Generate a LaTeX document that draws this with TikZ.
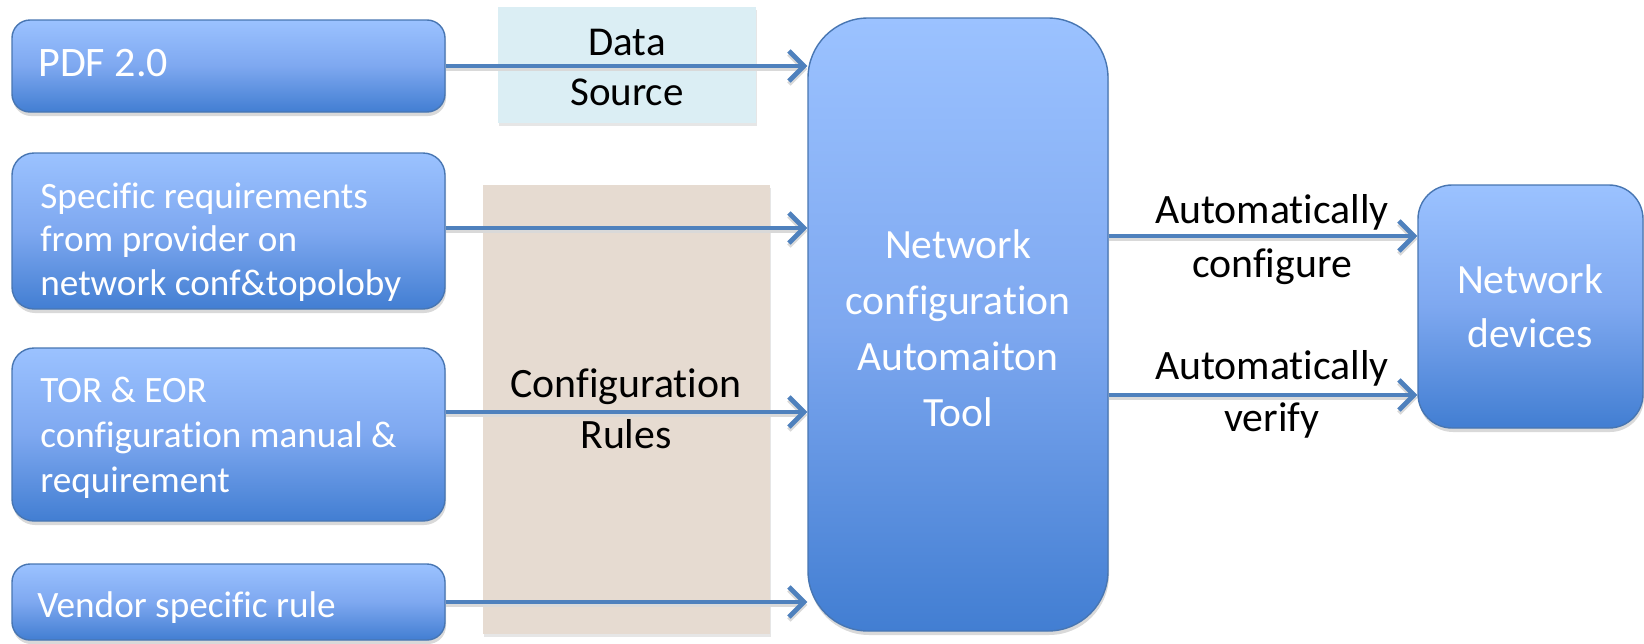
\documentclass[tikz,border=0pt]{standalone}
\usepackage{fontspec}
\setmainfont{Carlito}[Ligatures=NoCommon]
\usetikzlibrary{arrows.meta,shadows,calc}
\definecolor{btop}{RGB}{155,194,255}
\definecolor{bmid}{RGB}{126,168,240}
\definecolor{bbot}{RGB}{66,126,210}
\definecolor{bline}{RGB}{72,118,178}
\definecolor{arr}{RGB}{79,129,189}
\definecolor{dsrc}{RGB}{219,238,244}
\definecolor{crul}{RGB}{230,219,209}
\begin{document}
\begin{tikzpicture}[x=0.5pt,y=-0.5pt,
  bluebox/.style={draw=bline, line width=0.7pt, top color=btop, bottom color=bbot, middle color=bmid,
    drop shadow={shadow xshift=0.5pt, shadow yshift=-2pt, opacity=0.3}, inner sep=0pt},
  flatbox/.style={draw=none, inner sep=0pt,
    drop shadow={shadow xshift=0.5pt, shadow yshift=-1.5pt, opacity=0.2}},
  wtxt/.style={text=white, inner sep=0pt},
  btxt/.style={text=black, inner sep=0pt, align=center},
  conn/.style={draw=arr, line width=2.4pt, -{Straight Barb[length=7.5pt,width=15pt]},
    preaction={draw=black!15, line width=2.4pt, transform canvas={yshift=-1.5pt}}},
]
\useasboundingbox (0,0) rectangle (1644,643);

% background label boxes
\node[flatbox, fill=dsrc, minimum width=129pt, minimum height=58pt] (ds) at (627,65) {};
\node[flatbox, fill=crul, minimum width=143.5pt, minimum height=224.5pt] (cr) at (626.5,409.5) {};

% blue boxes
\node[bluebox, rounded corners=9pt, minimum width=216.5pt, minimum height=46pt] (b1) at (228.5,66) {};
\node[bluebox, rounded corners=11pt, minimum width=216.5pt, minimum height=78pt] (b2) at (228.5,231) {};
\node[bluebox, rounded corners=11pt, minimum width=216.5pt, minimum height=86.5pt] (b3) at (228.5,434.5) {};
\node[bluebox, rounded corners=9pt, minimum width=216.5pt, minimum height=38pt] (b4) at (228.5,602) {};
\node[bluebox, rounded corners=30pt, minimum width=150pt, minimum height=306.5pt] (tool) at (958,324.5) {};
\node[bluebox, rounded corners=17pt, minimum width=112.5pt, minimum height=121.5pt] (nd) at (1530.5,306.5) {};

% texts in blue boxes (multi-line nodes: base = last line)
\node[wtxt, anchor=base west, font=\fontsize{21}{25}\selectfont] (t1) at (38,76) {PDF 2.0};
\node[wtxt, anchor=base west, align=left, font=\fontsize{18.6}{21.75}\selectfont] (t2) at (40,295)
  {Specific requirements\\from provider on\\network conf\&topoloby};
\node[wtxt, anchor=base west, align=left, font=\fontsize{18.6}{22.5}\selectfont] (t3) at (40,492)
  {TOR \& EOR\\configuration manual \&\\requirement};
\node[wtxt, anchor=base west, font=\fontsize{18.6}{22}\selectfont] (t4) at (37,617) {Vendor specific rule};
\node[wtxt, anchor=base, align=center, font=\fontsize{20.8}{28}\selectfont] (ttool) at (958,426)
  {Network\\configuration\\Automaiton\\Tool};
\node[wtxt, anchor=base, align=center, font=\fontsize{20.8}{27}\selectfont] (tnd) at (1530,347)
  {Network\\devices};

% black labels
\node[btxt, anchor=base, font=\fontsize{20.5}{25}\selectfont] (tds) at (627,105) {Data\\Source};
\node[btxt, anchor=base, font=\fontsize{20.9}{25.5}\selectfont] (tcr) at (626,448) {Configuration\\Rules};
\node[btxt, anchor=base, font=\fontsize{20.9}{27}\selectfont] (tac) at (1272,277) {Automatically\\configure};
\node[btxt, anchor=base, font=\fontsize{20.9}{26}\selectfont] (tav) at (1272,431) {Automatically\\verify};

% connectors
\draw[conn] (b1.east) -- (b1.east -| tool.west);
\draw[conn] ([yshift=1.5pt]b2.east) -- ([yshift=1.5pt]b2.east -| tool.west);
\draw[conn] ([yshift=11.25pt]b3.east) -- ([yshift=11.25pt]b3.east -| tool.west);
\draw[conn] (b4.east) -- (b4.east -| tool.west);
\coordinate (o1) at ([yshift=35.25pt]nd.west);
\coordinate (o2) at ([yshift=-44.25pt]nd.west);
\draw[conn] (o1 -| tool.east) -- (o1);
\draw[conn] (o2 -| tool.east) -- (o2);
\end{tikzpicture}
\end{document}
